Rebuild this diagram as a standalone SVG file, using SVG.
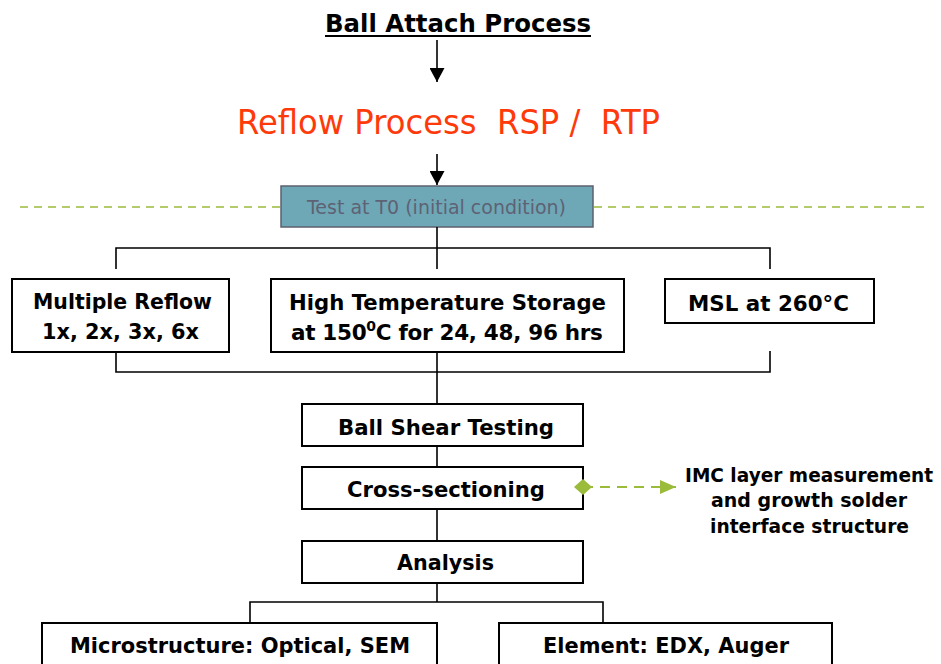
<svg xmlns="http://www.w3.org/2000/svg" width="941" height="664" viewBox="0 0 941 664">
<style>
.box{fill:#fff;stroke:#000;stroke-width:2}
.lbl{font-family:"DejaVu Sans",Verdana,sans-serif;font-weight:bold;font-size:21.5px;fill:#000;text-anchor:middle}
.imc{font-size:19.5px}
.ln{fill:none;stroke:#000;stroke-width:1.6}
.gd{fill:none;stroke:#9BBB3B;stroke-width:1.6;stroke-dasharray:8 6}
</style>
<defs>
<marker id="ah" viewBox="0 0 14 15" refX="14" refY="7.5" markerWidth="14" markerHeight="15" markerUnits="userSpaceOnUse" orient="auto"><path d="M0,0 L14,7.5 L0,15 Z" fill="#000"/></marker>
<marker id="gh" viewBox="0 0 16 14" refX="16" refY="7" markerWidth="16" markerHeight="14" markerUnits="userSpaceOnUse" orient="auto"><path d="M0,0 L16,7 L0,14 Z" fill="#9BBB3B"/></marker>
<marker id="gdm" viewBox="0 0 18 16" refX="9" refY="8" markerWidth="18" markerHeight="16" markerUnits="userSpaceOnUse" orient="auto"><path d="M0,8 L9,0 L18,8 L9,16 Z" fill="#9BBB3B"/></marker>
</defs>
<rect width="941" height="664" fill="#fff"/>

<g id="title">
<text x="458" y="32" class="lbl" style="font-size:25px" textLength="266" lengthAdjust="spacingAndGlyphs">Ball Attach Process</text>
<line x1="325" y1="36" x2="591" y2="36" stroke="#000" stroke-width="2"/>
</g>

<g id="reflow">
<text x="448.5" y="134" xml:space="preserve" style="font-family:'DejaVu Sans',Verdana,sans-serif;font-size:33px;fill:#FF3A0A;text-anchor:middle" textLength="423" lengthAdjust="spacingAndGlyphs">Reflow Process  RSP /  RTP</text>
</g>

<g id="guide">
<line x1="20" y1="207" x2="281" y2="207" class="gd"/>
<line x1="594" y1="207" x2="925" y2="207" class="gd"/>
</g>

<g id="test">
<rect x="281" y="186" width="312" height="41" fill="#6EA8B6" stroke="#5C5F6E" stroke-width="1.5"/>
<text x="436.5" y="214" style="font-family:'DejaVu Sans',Verdana,sans-serif;font-size:19px;fill:#5E6274;text-anchor:middle" textLength="259" lengthAdjust="spacingAndGlyphs">Test at T0 (initial condition)</text>
</g>

<g id="multiple-reflow">
<rect x="12" y="279" width="217" height="73" class="box"/>
<text x="122.5" y="309" class="lbl" textLength="179" lengthAdjust="spacingAndGlyphs">Multiple Reflow</text>
<text x="120.5" y="339" class="lbl" textLength="157" lengthAdjust="spacingAndGlyphs">1x, 2x, 3x, 6x</text>
</g>

<g id="hts">
<rect x="271" y="279" width="353" height="73" class="box"/>
<text x="447.5" y="310" class="lbl" textLength="317" lengthAdjust="spacingAndGlyphs">High Temperature Storage</text>
<text x="291" y="340" class="lbl" style="text-anchor:start;letter-spacing:-0.3px">at 150<tspan dy="-9" style="font-size:14px">0</tspan><tspan dy="9">C for 24, 48, 96 hrs</tspan></text>
</g>

<g id="msl">
<rect x="665" y="279" width="209" height="44" class="box"/>
<text x="768.5" y="311" class="lbl" textLength="161" lengthAdjust="spacingAndGlyphs">MSL at 260°C</text>
</g>

<g id="ball-shear">
<rect x="302" y="404" width="281" height="42" class="box"/>
<text x="446" y="435" class="lbl" textLength="216" lengthAdjust="spacingAndGlyphs">Ball Shear Testing</text>
</g>

<g id="cross">
<rect x="302" y="467" width="281" height="42" class="box"/>
<text x="446" y="497" class="lbl" textLength="198" lengthAdjust="spacingAndGlyphs">Cross-sectioning</text>
</g>

<g id="imc">
<text x="933" y="482" class="lbl imc" style="text-anchor:end" textLength="248" lengthAdjust="spacingAndGlyphs">IMC layer measurement</text>
<text x="809" y="507" class="lbl imc" textLength="196" lengthAdjust="spacingAndGlyphs">and growth solder</text>
<text x="809.5" y="533" class="lbl imc" textLength="199" lengthAdjust="spacingAndGlyphs">interface structure</text>
</g>

<g id="analysis">
<rect x="302" y="541" width="281" height="42" class="box"/>
<text x="445.5" y="570" class="lbl" textLength="97" lengthAdjust="spacingAndGlyphs">Analysis</text>
</g>

<g id="micro">
<rect x="42" y="623" width="395" height="50" class="box"/>
<text x="240" y="653" class="lbl" textLength="340" lengthAdjust="spacingAndGlyphs">Microstructure: Optical, SEM</text>
</g>

<g id="element">
<rect x="499" y="623" width="333" height="50" class="box"/>
<text x="666" y="653" class="lbl" textLength="246" lengthAdjust="spacingAndGlyphs">Element: EDX, Auger</text>
</g>

<g id="connectors">
<line x1="437" y1="40" x2="437" y2="82" class="ln" marker-end="url(#ah)"/>
<line x1="437" y1="154" x2="437" y2="185" class="ln" marker-end="url(#ah)"/>
<path d="M437,227 V248 M116,269 V248 H770 V269 M437,248 V269" class="ln"/>
<path d="M116,352 V372 H770 V351 M437,352 V404" class="ln"/>
<path d="M437,446 V467 M437,509 V541" class="ln"/>
<path d="M437,583 V602 M250,623 V602 H603 V623" class="ln"/>
<line x1="583" y1="487" x2="676" y2="487" class="gd" style="stroke-width:2;stroke-dasharray:10 7" marker-start="url(#gdm)" marker-end="url(#gh)"/>
</g>
</svg>
